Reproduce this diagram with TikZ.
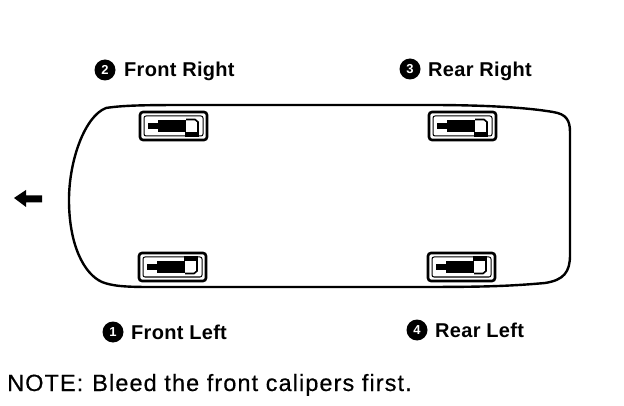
\documentclass[tikz,border=0pt]{standalone}
\usepackage{fontspec}
\setmainfont{Liberation Sans}
\newfontfamily\labfont[LetterSpace=1.5]{Liberation Sans Bold}
\newfontfamily\notefont[LetterSpace=4.6,FakeBold=0.5]{Liberation Sans}
\tikzset{
  body/.style={draw=black,line width=2.4pt,line join=round},
  lab/.style={font=\labfont\fontsize{20}{22}\selectfont,anchor=base west,inner sep=0pt,text=black},
  num/.style={circle,fill=black,text=white,minimum size=21pt,inner sep=0pt,font=\bfseries\fontsize{13}{14}\selectfont},
  pics/caliper/.style={code={
    \draw[line width=2.6pt,rounded corners=3pt] (0,0) rectangle (67,28);
    \draw[line width=1pt,rounded corners=2pt] (4,4) rectangle (63,24);
    \fill (8,11) rectangle (46,17);
    \fill (18,8) rectangle (46,20);
    \draw[line width=1.6pt] (46,7.5) -- (55,7.5) -- (58,10) -- (58,21);
    \fill (45,20) -- (59,20) -- (59,25) -- (45,25) -- cycle;
  }}
}
\begin{document}
\begin{tikzpicture}[x=1pt,y=-1pt]
\useasboundingbox (0,0) rectangle (624,406);
\fill[white] (0,0) rectangle (624,406);
\draw[body] (106,108) .. controls (125,105) and (150,105) .. (200,105)
  -- (430,105) .. controls (490,105) and (530,108) .. (553,112)
  .. controls (566,114) and (570,120) .. (570,132)
  -- (570,255) .. controls (570,272) and (564,280) .. (545,283)
  .. controls (500,287) and (470,287) .. (400,287)
  -- (150,287) .. controls (125,287) and (112,286) .. (102,282)
  .. controls (84,274) and (69,245) .. (69,200)
  .. controls (69,160) and (85,116) .. (106,108) -- cycle;
\pic at (140,112) {caliper};
\pic at (429,112) {caliper};
\pic[yscale=-1] at (139,281) {caliper};
\pic[yscale=-1] at (428,281) {caliper};
\node[num] (n2) at (105,70) {2};
\node[lab] (fr) at (124,77) {Front Right};
\node[num] (n3) at (410,69) {3};
\node[lab] (rr) at (428,77) {Rear Right};
\node[num] (n1) at (113,332) {1};
\node[lab] (fl) at (131,339) {Front Left};
\node[num] (n4) at (417,330) {4};
\node[lab] (rl) at (435,337) {Rear Left};
\node[anchor=base west,inner sep=0pt,font=\notefont\fontsize{23.5}{24}\selectfont] (note) at (7,391) {NOTE:\hspace{9pt}Bleed the front calipers first.};
\fill (14,198) -- (26,190) -- (26,195.5) -- (42,195.5) -- (42,202.5) -- (26,202.5) -- (26,207) -- cycle;
\end{tikzpicture}
\end{document}
